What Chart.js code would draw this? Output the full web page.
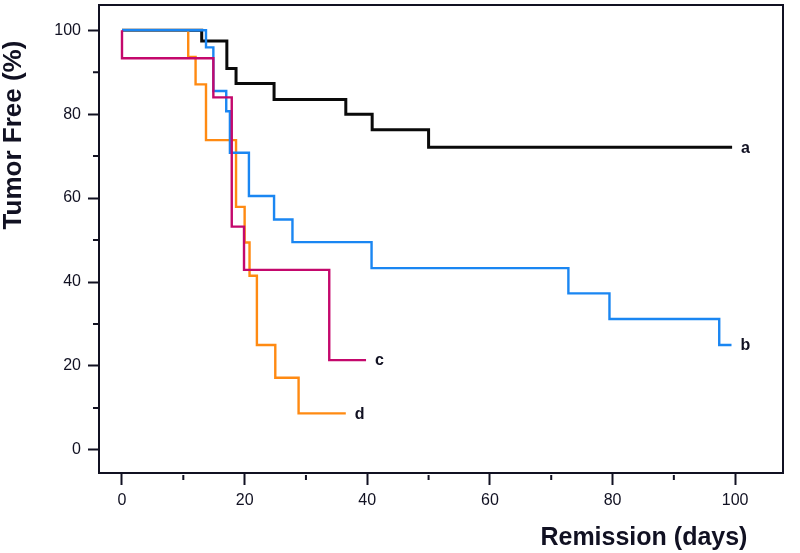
<!DOCTYPE html>
<html>
<head>
<meta charset="utf-8">
<script src="https://cdn.jsdelivr.net/npm/chart.js@4/dist/chart.umd.min.js"></script>
<style>
    body { margin: 0; background: #fff; }
</style>
</head>
<body>
<canvas id="km-chart" width="800" height="553"></canvas>
<script>
// survival curves: day of each drop and the level after it
const aDays = [0, 13, 17.1, 18.6, 24.8, 36.5, 40.8, 50, 99.5];
const aValues = [100, 97.4, 90.9, 87.3, 83.5, 80, 76.3, 72.1, 72.1];

const bDays = [0, 13.7, 14.9, 17, 17.6, 20.7, 24.8, 27.8, 40.7, 72.8, 79.5, 97.4, 99.4];
const bValues = [100, 95.9, 85.5, 80.7, 70.8, 60.5, 54.9, 49.5, 43.3, 37.3, 31.2, 25, 25];

const cDays = [0, 0, 14.9, 17.9, 19.9, 33.8, 39.8];
const cValues = [100, 93.3, 84, 53.2, 42.9, 21.4, 21.4];

const dDays = [0, 10.8, 12, 13.7, 18.6, 20, 20.8, 22, 25, 28.8, 36.5];
const dValues = [100, 93.6, 87.1, 73.8, 57.9, 49.4, 41.5, 25, 17.2, 8.7, 8.7];

const xMajorTicks = [0, 20, 40, 60, 80, 100];
const xMinorTicks = [10, 30, 50, 70, 90];
const yMajorTicks = [0, 20, 40, 60, 80, 100];
const yMinorTicks = [10, 30, 50, 70, 90];

const toPoints = (days, values) => days.map((d, i) => ({ x: d, y: values[i] }));

const inkColor = '#111122';

// frame, short minor ticks, curve letters and axis titles
const decorations = {
    id: 'decorations',
    afterDatasetsDraw: (chart) => {
        const ctx = chart.ctx;
        ctx.save();
        ctx.fillStyle = inkColor;
        ctx.font = 'bold 16px "Liberation Sans", Arial, sans-serif';
        ctx.textAlign = 'left';
        ctx.textBaseline = 'middle';
        chart.data.datasets.forEach((ds, i) => {
            const pts = chart.getDatasetMeta(i).data;
            const last = pts[pts.length - 1];
            ctx.fillText(ds.label, last.x + 9, last.y + 1);
        });
        ctx.restore();
    },
    afterDraw: (chart) => {
        const ctx = chart.ctx;
        const area = chart.chartArea;
        const xs = chart.scales.x;
        const ys = chart.scales.y;
        ctx.save();
        ctx.strokeStyle = inkColor;
        ctx.lineWidth = 2;
        ctx.strokeRect(area.left, area.top, area.right - area.left, area.bottom - area.top);

        ctx.beginPath();
        xMinorTicks.forEach(v => {
            const px = xs.getPixelForValue(v);
            ctx.moveTo(px, area.bottom + 2);
            ctx.lineTo(px, area.bottom + 7);
        });
        yMinorTicks.forEach(v => {
            const py = ys.getPixelForValue(v);
            ctx.moveTo(area.left, py);
            ctx.lineTo(area.left - 6, py);
        });
        ctx.stroke();

        ctx.fillStyle = inkColor;
        ctx.textAlign = 'right';
        ctx.textBaseline = 'alphabetic';
        ctx.font = 'bold 25px "Liberation Sans", Arial, sans-serif';
        ctx.fillText('Remission (days)', xs.getPixelForValue(102), 545);

        ctx.font = 'bold 26px "Liberation Sans", Arial, sans-serif';
        ctx.translate(21, ys.getPixelForValue(97.5));
        ctx.rotate(-Math.PI / 2);
        ctx.fillText('Tumor Free (%)', 0, 0);
        ctx.restore();
    }
};

const lineSet = (label, days, values, color, width) => ({
    label: label,
    data: toPoints(days, values),
    borderColor: color,
    borderWidth: width,
    stepped: 'before',
    pointRadius: 0,
    fill: false
});

const ctx = document.getElementById('km-chart').getContext('2d');
const kmChart = new Chart(ctx, {
    type: 'line',
    data: {
        datasets: [
            lineSet('c', cDays, cValues, '#c4086c', 2.4),
            lineSet('b', bDays, bValues, '#1a86f2', 2.4),
            lineSet('d', dDays, dValues, '#ff8a12', 2.4),
            lineSet('a', aDays, aValues, '#0a0a0a', 3)
        ]
    },
    options: {
        responsive: false,
        animation: false,
        devicePixelRatio: 1,
        layout: {
            padding: { top: 5, right: 17, left: 0, bottom: 0 }
        },
        plugins: {
            legend: { display: false },
            tooltip: { enabled: false }
        },
        scales: {
            x: {
                type: 'linear',
                min: -3.75,
                max: 107.8,
                afterBuildTicks: (s) => { s.ticks = xMajorTicks.map(v => ({ value: v })); },
                afterFit: (s) => {
                    s.height = 80;
                    s.paddingLeft = 0;
                    s.paddingRight = 0;
                },
                border: { display: false },
                grid: {
                    drawOnChartArea: false,
                    tickLength: 12,
                    tickWidth: 2,
                    tickColor: inkColor
                },
                ticks: {
                    color: inkColor,
                    font: { size: 16, family: '"Liberation Sans", Arial, sans-serif' },
                    padding: 6,
                    maxRotation: 0
                }
            },
            y: {
                type: 'linear',
                min: -5.5,
                max: 106,
                afterBuildTicks: (s) => { s.ticks = yMajorTicks.map(v => ({ value: v })); },
                afterFit: (s) => {
                    s.width = 99;
                    s.paddingTop = 0;
                    s.paddingBottom = 0;
                },
                border: { display: false },
                grid: {
                    drawOnChartArea: false,
                    tickLength: 11,
                    tickWidth: 2,
                    tickColor: inkColor
                },
                ticks: {
                    color: inkColor,
                    font: { size: 16, family: '"Liberation Sans", Arial, sans-serif' },
                    padding: 7
                }
            }
        }
    },
    plugins: [decorations]
});
</script>
</body>
</html>
